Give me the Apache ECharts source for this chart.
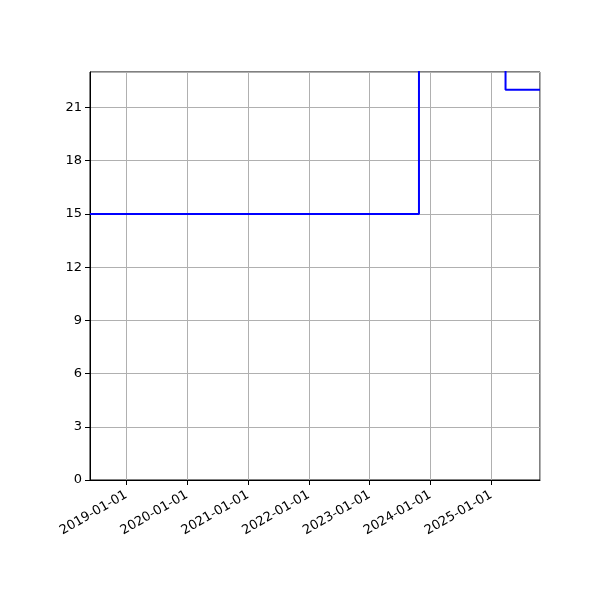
<!DOCTYPE html>
<html>
<head>
<meta charset="utf-8">
<script src="https://cdn.jsdelivr.net/npm/echarts@6/dist/echarts.min.js"></script>
<style>html,body{margin:0;padding:0;background:#fff}#c{width:600px;height:600px}</style>
</head>
<body>
<div id="c"></div>
<script>
var dates = ['2018-05-28', '2023-10-25', '2025-03-28', '2025-10-21'];
var values = [15, 30, 22, 22];
var yTicks = [0, 3, 6, 9, 12, 15, 18, 21];
var xMin = '2018-05-28';
var xMax = '2025-10-21';

var data = dates.map(function (d, i) { return [d, values[i]]; });
var chart = echarts.init(document.getElementById('c'));
var font = 'DejaVu Sans';
chart.setOption({
  animation: false,
  grid: { left: 90, right: 60, top: 72, bottom: 120, show: true, borderColor: '#000', borderWidth: 1, containLabel: false },
  xAxis: {
    type: 'time',
    min: xMin,
    max: xMax,
    splitNumber: 7,
    minInterval: 365 * 86400000,
    axisLine: { show: true, lineStyle: { color: '#000', width: 1 } },
    axisTick: { show: true, inside: false, length: 5, lineStyle: { color: '#000' } },
    axisLabel: {
      rotate: 30, color: '#000', fontFamily: font, fontSize: 13, margin: 14,
      showMinLabel: false, showMaxLabel: false,
      formatter: function (v) { return echarts.time.format(v, '{yyyy}-{MM}-{dd}', false); }
    },
    splitLine: { show: true, lineStyle: { color: '#b0b0b0', width: 1 } }
  },
  yAxis: {
    type: 'value',
    min: yTicks[0],
    max: 23,
    interval: 3,
    axisLine: { show: true, lineStyle: { color: '#000', width: 1 } },
    axisTick: { show: true, inside: false, length: 5, lineStyle: { color: '#000' } },
    axisLabel: { color: '#000', fontFamily: font, fontSize: 13, margin: 8, showMaxLabel: false },
    splitLine: { show: true, lineStyle: { color: '#b0b0b0', width: 1 } }
  },
  series: [{
    type: 'line',
    step: 'end',
    data: data,
    symbol: 'none',
    clip: true,
    lineStyle: { color: '#0000ff', width: 2 }
  }]
});
</script>
</body>
</html>
